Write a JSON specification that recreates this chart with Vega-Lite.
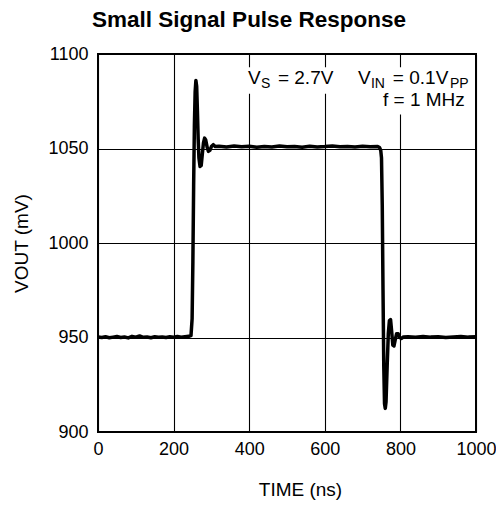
{
  "$schema": "https://vega.github.io/schema/vega-lite/v6.json",
  "width": 378,
  "height": 378,
  "autosize": {"type": "none"},
  "padding": {"left": 98, "top": 54, "right": 20, "bottom": 76},
  "background": "white",
  "config": {
    "font": "Liberation Sans",
    "view": {"stroke": "black", "strokeWidth": 2},
    "axis": {
      "domain": false,
      "ticks": false,
      "grid": true,
      "gridColor": "black",
      "gridOpacity": 1,
      "gridWidth": 1.1,
      "labelFlush": false,
      "labelFont": "Liberation Sans",
      "labelFontSize": 18,
      "labelColor": "black",
      "titleFont": "Liberation Sans",
      "titleFontSize": 19,
      "titleFontWeight": "normal",
      "titleColor": "black"
    }
  },
  "title": {
    "text": "Small Signal Pulse Response",
    "font": "Liberation Sans",
    "fontSize": 22.5,
    "fontWeight": "bold",
    "color": "black",
    "anchor": "middle",
    "dx": -38,
    "offset": 14
  },
  "datasets": {
    "trace": [
      {"t": 0, "v": 950.3}, {"t": 10, "v": 950.0}, {"t": 20, "v": 950.4}, {"t": 30, "v": 949.9},
      {"t": 40, "v": 950.2}, {"t": 50, "v": 950.5}, {"t": 60, "v": 950.0}, {"t": 70, "v": 950.3},
      {"t": 80, "v": 949.8}, {"t": 90, "v": 950.6}, {"t": 100, "v": 950.2}, {"t": 110, "v": 950.8},
      {"t": 120, "v": 950.1}, {"t": 130, "v": 950.3}, {"t": 140, "v": 949.9}, {"t": 150, "v": 950.4},
      {"t": 160, "v": 950.1}, {"t": 170, "v": 950.3}, {"t": 180, "v": 950.0}, {"t": 190, "v": 950.4},
      {"t": 200, "v": 950.2}, {"t": 210, "v": 950.5}, {"t": 220, "v": 950.1}, {"t": 230, "v": 950.4},
      {"t": 240, "v": 950.6}, {"t": 246, "v": 951.0},
      {"t": 249, "v": 960}, {"t": 251, "v": 990}, {"t": 253, "v": 1030}, {"t": 255, "v": 1062},
      {"t": 257, "v": 1080}, {"t": 259, "v": 1086}, {"t": 261, "v": 1083}, {"t": 263, "v": 1070},
      {"t": 265, "v": 1055}, {"t": 267, "v": 1045}, {"t": 270, "v": 1040.5}, {"t": 273, "v": 1041},
      {"t": 276, "v": 1047}, {"t": 279, "v": 1053}, {"t": 282, "v": 1055.5}, {"t": 285, "v": 1054.5},
      {"t": 289, "v": 1050.5}, {"t": 292, "v": 1048.5}, {"t": 296, "v": 1049}, {"t": 300, "v": 1051},
      {"t": 305, "v": 1052}, {"t": 310, "v": 1051},
      {"t": 320, "v": 1051.2}, {"t": 340, "v": 1050.8}, {"t": 360, "v": 1051.3}, {"t": 380, "v": 1050.9},
      {"t": 400, "v": 1051.2}, {"t": 420, "v": 1050.7}, {"t": 440, "v": 1051.1}, {"t": 460, "v": 1050.8},
      {"t": 480, "v": 1051.3}, {"t": 500, "v": 1050.9}, {"t": 520, "v": 1051.1}, {"t": 540, "v": 1050.7},
      {"t": 560, "v": 1051.2}, {"t": 580, "v": 1050.8}, {"t": 600, "v": 1051.0}, {"t": 620, "v": 1051.3},
      {"t": 640, "v": 1050.9}, {"t": 660, "v": 1051.1}, {"t": 680, "v": 1050.8}, {"t": 700, "v": 1051.2},
      {"t": 720, "v": 1050.9}, {"t": 740, "v": 1051.0}, {"t": 745, "v": 1050.5}, {"t": 748, "v": 1049},
      {"t": 750, "v": 1045}, {"t": 752, "v": 1020}, {"t": 754, "v": 975}, {"t": 756, "v": 935},
      {"t": 758, "v": 915}, {"t": 760, "v": 912.5}, {"t": 762, "v": 916}, {"t": 765, "v": 935},
      {"t": 768, "v": 952}, {"t": 771, "v": 959}, {"t": 774, "v": 959.5}, {"t": 777, "v": 953},
      {"t": 780, "v": 946}, {"t": 783, "v": 945.5}, {"t": 786, "v": 948.5}, {"t": 790, "v": 952},
      {"t": 794, "v": 952}, {"t": 798, "v": 950}, {"t": 803, "v": 949.5}, {"t": 808, "v": 950.3},
      {"t": 820, "v": 950.4}, {"t": 840, "v": 950.1}, {"t": 860, "v": 950.5}, {"t": 880, "v": 950.2},
      {"t": 900, "v": 950.4}, {"t": 920, "v": 950.0}, {"t": 940, "v": 950.3}, {"t": 960, "v": 950.5},
      {"t": 980, "v": 950.2}, {"t": 1000, "v": 950.4}
    ],
    "boxes": [
      {"x0": 391, "x1": 630, "y0": 1079, "y1": 1093},
      {"x0": 680, "x1": 990, "y0": 1068, "y1": 1093}
    ],
    "main": [
      {"x": 397, "y": 1083.9, "label": "V"},
      {"x": 476, "y": 1083.9, "label": "= 2.7V"},
      {"x": 688, "y": 1083.9, "label": "V"},
      {"x": 780, "y": 1083.9, "label": "= 0.1V"},
      {"x": 754, "y": 1072.3, "label": "f = 1 MHz"}
    ],
    "sub": [
      {"x": 431, "y": 1081.9, "label": "S"},
      {"x": 722, "y": 1081.9, "label": "IN"},
      {"x": 931, "y": 1081.9, "label": "PP"}
    ]
  },
  "layer": [
    {
      "data": {"name": "trace"},
      "mark": {"type": "line", "color": "black", "strokeWidth": 3.5, "strokeJoin": "round", "clip": true},
      "encoding": {
        "x": {
          "field": "t", "type": "quantitative", "title": "TIME (ns)",
          "scale": {"domain": [0, 1000], "nice": false, "zero": false},
          "axis": {"values": [0, 200, 400, 600, 800, 1000], "format": "d", "labelPadding": 8, "titlePadding": 22, "titleX": 202}
        },
        "y": {
          "field": "v", "type": "quantitative", "title": "VOUT (mV)",
          "scale": {"domain": [900, 1100], "nice": false, "zero": false},
          "axis": {"values": [900, 950, 1000, 1050, 1100], "format": "d", "labelPadding": 10, "titlePadding": 16}
        }
      }
    },
    {
      "data": {"name": "boxes"},
      "mark": {"type": "rect", "color": "white"},
      "encoding": {
        "x": {"field": "x0", "type": "quantitative", "title": "TIME (ns)"},
        "x2": {"field": "x1"},
        "y": {"field": "y0", "type": "quantitative", "title": "VOUT (mV)"},
        "y2": {"field": "y1"}
      }
    },
    {
      "data": {"name": "main"},
      "mark": {"type": "text", "align": "left", "baseline": "alphabetic", "fontSize": 19, "font": "Liberation Sans", "color": "black"},
      "encoding": {
        "x": {"field": "x", "type": "quantitative", "title": "TIME (ns)"},
        "y": {"field": "y", "type": "quantitative", "title": "VOUT (mV)"},
        "text": {"field": "label"}
      }
    },
    {
      "data": {"name": "sub"},
      "mark": {"type": "text", "align": "left", "baseline": "alphabetic", "fontSize": 14, "font": "Liberation Sans", "color": "black"},
      "encoding": {
        "x": {"field": "x", "type": "quantitative", "title": "TIME (ns)"},
        "y": {"field": "y", "type": "quantitative", "title": "VOUT (mV)"},
        "text": {"field": "label"}
      }
    }
  ]
}
